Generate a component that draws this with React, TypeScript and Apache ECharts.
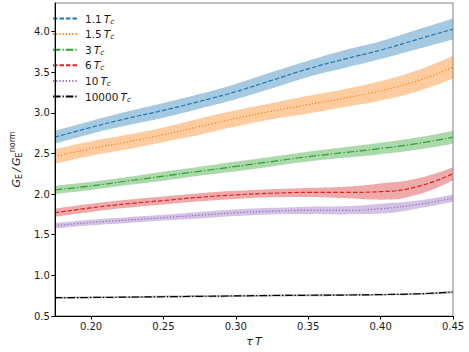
import React, { useEffect, useRef } from "react";
import * as echarts from "echarts";

const xs = [0.175, 0.2, 0.225, 0.25, 0.275, 0.3, 0.325, 0.35, 0.375, 0.4, 0.425, 0.45];

const labelsNum = ["1.1", "1.5", "3", "6", "10", "10000"];
const colors = ["#1f77b4", "#ff7f0e", "#2ca02c", "#d62728", "#9467bd", "#000000"];
const bandColors = [
  "rgba(31,119,180,0.4)",
  "rgba(255,127,14,0.4)",
  "rgba(44,160,44,0.4)",
  "rgba(214,39,40,0.4)",
  "rgba(148,103,189,0.4)",
  "rgba(0,0,0,0.3)",
];

const mean11 = [2.70, 2.82, 2.93, 3.03, 3.14, 3.26, 3.40, 3.54, 3.66, 3.77, 3.90, 4.03];
const err11 = [0.08, 0.08, 0.085, 0.09, 0.09, 0.095, 0.1, 0.1, 0.11, 0.11, 0.12, 0.13];
const mean15 = [2.46, 2.56, 2.64, 2.73, 2.83, 2.93, 3.02, 3.10, 3.18, 3.27, 3.39, 3.56];
const err15 = [0.09, 0.09, 0.09, 0.09, 0.1, 0.1, 0.1, 0.11, 0.11, 0.12, 0.13, 0.14];
const mean3 = [2.05, 2.10, 2.16, 2.22, 2.28, 2.34, 2.40, 2.46, 2.51, 2.56, 2.62, 2.70];
const err3 = [0.05, 0.05, 0.05, 0.055, 0.055, 0.06, 0.06, 0.06, 0.065, 0.07, 0.075, 0.08];
const mean6 = [1.77, 1.83, 1.88, 1.92, 1.96, 1.99, 2.01, 2.02, 2.02, 2.03, 2.09, 2.25];
const err6 = [0.05, 0.05, 0.05, 0.05, 0.05, 0.05, 0.05, 0.055, 0.07, 0.1, 0.1, 0.08];
const mean10 = [1.61, 1.65, 1.68, 1.71, 1.74, 1.77, 1.79, 1.80, 1.80, 1.82, 1.87, 1.95];
const err10 = [0.035, 0.035, 0.035, 0.035, 0.04, 0.04, 0.04, 0.045, 0.05, 0.06, 0.05, 0.045];
const mean10000 = [0.725, 0.728, 0.732, 0.737, 0.742, 0.747, 0.752, 0.755, 0.758, 0.763, 0.772, 0.795];
const err10000 = [0.012, 0.012, 0.012, 0.012, 0.012, 0.012, 0.012, 0.012, 0.012, 0.012, 0.012, 0.014];

const yTicks = [0.5, 1.0, 1.5, 2.0, 2.5, 3.0, 3.5, 4.0];
const xTicks = [0.2, 0.25, 0.3, 0.35, 0.4, 0.45];

const means = [mean11, mean15, mean3, mean6, mean10, mean10000];
const errs = [err11, err15, err3, err6, err10, err10000];
const dashes = [
  [4.5, 2],
  [1.2, 2],
  [7.5, 2, 1.3, 2],
  [4.5, 2],
  [1.2, 2],
  [7.5, 2, 1.3, 2],
];

export default function App() {
  const ref = useRef<HTMLDivElement>(null);
  useEffect(() => {
    if (!ref.current) return;
    const chart = echarts.init(ref.current, null, { renderer: "svg" });
    const series: any[] = [];
    // bands: upper edge filled down to axis start, then lower edge filled white (bands are disjoint, top to bottom)
    means.forEach((m, k) => {
      const e = errs[k];
      series.push({
        type: "line",
        name: `hi${k}`,
        data: xs.map((x, i) => [x, m[i] + e[i]]),
        smooth: true,
        symbol: "none",
        lineStyle: { width: 0, opacity: 0 },
        areaStyle: { color: bandColors[k], origin: "start", opacity: 1 },
        silent: true,
        z: 1,
      });
      series.push({
        type: "line",
        name: `lo${k}`,
        data: xs.map((x, i) => [x, m[i] - e[i]]),
        smooth: true,
        symbol: "none",
        lineStyle: { width: 0, opacity: 0 },
        areaStyle: { color: "#ffffff", origin: "start", opacity: 1 },
        silent: true,
        z: 1,
      });
    });
    means.forEach((m, k) => {
      series.push({
        type: "line",
        name: `${labelsNum[k]} Tc`,
        data: xs.map((x, i) => [x, m[i]]),
        smooth: true,
        symbol: "none",
        lineStyle: { color: colors[k], width: 1.2, type: dashes[k] },
        itemStyle: { color: colors[k] },
        z: 3,
      });
    });
    chart.setOption({
      animation: false,
      grid: {
        left: 42,
        right: 16,
        top: 3,
        bottom: 36,
        show: true,
        borderColor: "#808080",
        borderWidth: 1,
        z: 5,
      },
      legend: {
        data: labelsNum.map((v) => `${v} Tc`),
        orient: "vertical",
        left: 47,
        top: 8,
        itemWidth: 24,
        itemHeight: 12,
        itemGap: 3.6,
        itemStyle: { opacity: 0 },
        textStyle: {
          fontFamily: "DejaVu Sans",
          fontSize: 10.5,
          color: "#1a1a1a",
          padding: [0, 0, 0, 3],
          rich: {
            i: { fontFamily: "DejaVu Sans", fontStyle: "italic", fontSize: 10.5, color: "#1a1a1a" },
            s: { fontFamily: "DejaVu Sans", fontStyle: "italic", fontSize: 7.5, color: "#1a1a1a", padding: [5, 0, 0, 0] },
          },
        },
        formatter: (n: string) => n.replace(" Tc", "\u2009{i|T}{s|c}"),
      },
      xAxis: {
        type: "value",
        min: 0.175,
        max: 0.45,
        z: 6,
        name: "{i|\u03c4\u2009T}",
        nameLocation: "middle",
        nameGap: 20,
        nameTextStyle: {
          rich: { i: { fontFamily: "DejaVu Sans", fontStyle: "italic", fontSize: 11, color: "#1a1a1a" } },
        },
        axisLine: { show: true, lineStyle: { color: "#000", width: 1 } },
        axisTick: { show: true, length: 3.5, lineStyle: { color: "#000" }, customValues: xTicks },
        axisLabel: {
          customValues: xTicks,
          formatter: (v: number) => v.toFixed(2),
          fontFamily: "DejaVu Sans",
          fontSize: 10,
          color: "#1a1a1a",
          margin: 5,
        },
        splitLine: { show: false },
      },
      yAxis: {
        type: "value",
        min: 0.5,
        max: 4.35,
        z: 6,
        name: "{g|G}{sb|E}{g|\u2009/\u2009G}{sb|E}{sp|norm}",
        nameLocation: "middle",
        nameGap: 23,
        nameTextStyle: {
          rich: {
            g: { fontFamily: "DejaVu Sans", fontStyle: "italic", fontSize: 11, color: "#1a1a1a" },
            sb: { fontFamily: "DejaVu Sans", fontSize: 8, color: "#1a1a1a", padding: [6, 0, 0, 0] },
            sp: { fontFamily: "DejaVu Sans", fontSize: 8, color: "#1a1a1a", padding: [0, 0, 8, 0] },
          },
        },
        axisLine: { show: true, lineStyle: { color: "#000", width: 1 } },
        axisTick: { show: true, length: 3.5, lineStyle: { color: "#000" }, customValues: yTicks },
        axisLabel: {
          customValues: yTicks,
          formatter: (v: number) => v.toFixed(1),
          fontFamily: "DejaVu Sans",
          fontSize: 10,
          color: "#1a1a1a",
          margin: 5,
        },
        splitLine: { show: false },
      },
      series,
    });
    return () => chart.dispose();
  }, []);
  return <div ref={ref} style={{ width: 469, height: 352, position: "absolute", left: 0, top: 0 }} />;
}
